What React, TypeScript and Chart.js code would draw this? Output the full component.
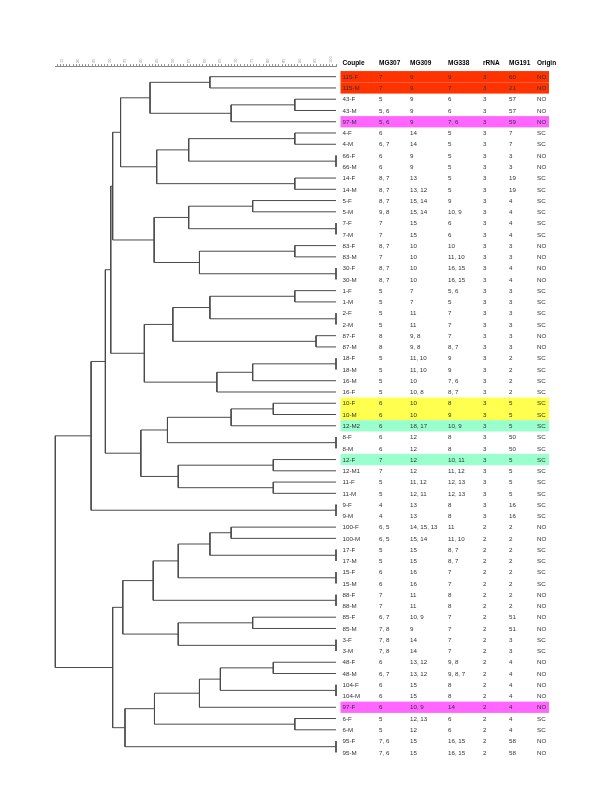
import React, { useEffect, useRef } from "react";
import { Chart, registerables } from "chart.js";

Chart.register(...registerables);

// ---- Data ----
const couples = ["115-F","115-M","43-F","43-M","97-M","4-F","4-M","66-F","66-M","14-F","14-M","5-F","5-M","7-F","7-M","83-F","83-M","30-F","30-M","1-F","1-M","2-F","2-M","87-F","87-M","18-F","18-M","16-M","16-F","10-F","10-M","12-M2","8-F","8-M","12-F","12-M1","11-F","11-M","9-F","9-M","100-F","100-M","17-F","17-M","15-F","15-M","88-F","88-M","85-F","85-M","3-F","3-M","48-F","48-M","104-F","104-M","97-F","6-F","6-M","95-F","95-M"];
const mg307 = ["7","7","5","5, 6","5, 6","6","6, 7","6","6","8, 7","8, 7","8, 7","9, 8","7","7","8, 7","7","8, 7","8, 7","5","5","5","5","8","8","5","5","5","5","6","6","6","6","6","7","7","5","5","4","4","6, 5","6, 5","5","5","6","6","7","7","6, 7","7, 8","7, 8","7, 8","6","6, 7","6","6","6","5","5","7, 6","7, 6"];
const mg309 = ["9","9","9","9","9","14","14","9","9","13","13, 12","15, 14","15, 14","15","15","10","10","10","10","7","7","11","11","9, 8","9, 8","11, 10","11, 10","10","10, 8","10","10","18, 17","12","12","12","12","11, 12","12, 11","13","13","14, 15, 13","15, 14","15","15","16","16","11","11","10, 9","9","14","14","13, 12","13, 12","15","15","10, 9","12, 13","12","15","15"];
const mg338 = ["9","7","6","6","7, 6","5","5","5","5","5","5","9","10, 9","6","6","10","11, 10","16, 15","16, 15","5, 6","5","7","7","7","8, 7","9","9","7, 6","8, 7","8","9","10, 9","8","8","10, 11","11, 12","12, 13","12, 13","8","8","11","11, 10","8, 7","8, 7","7","7","8","8","7","7","7","7","9, 8","9, 8, 7","8","8","14","6","6","16, 15","16, 15"];
const rrna = ["3","3","3","3","3","3","3","3","3","3","3","3","3","3","3","3","3","3","3","3","3","3","3","3","3","3","3","3","3","3","3","3","3","3","3","3","3","3","3","3","2","2","2","2","2","2","2","2","2","2","2","2","2","2","2","2","2","2","2","2","2"];
const mg191 = ["60","21","57","57","59","7","7","3","3","19","19","4","4","4","4","3","3","4","4","3","3","3","3","3","3","2","2","2","2","5","5","5","50","50","5","5","5","5","16","16","2","2","2","2","2","2","2","2","51","51","3","3","4","4","4","4","4","4","4","58","58"];
const origin = ["NO","NO","NO","NO","NO","SC","SC","NO","NO","SC","SC","SC","SC","SC","SC","NO","NO","NO","NO","SC","SC","SC","SC","NO","NO","SC","SC","SC","SC","SC","SC","SC","SC","SC","SC","SC","SC","SC","SC","SC","NO","NO","SC","SC","SC","SC","NO","NO","NO","NO","SC","SC","NO","NO","NO","NO","NO","SC","SC","NO","NO"];
const headers = ["Couple","MG307","MG309","MG338","rRNA","MG191","Origin"];
// highlighted rows: [row index, color]
const highlightRows = [0, 1, 4, 29, 30, 31, 34, 56];
const highlightColors = ["#ff3300","#ff3300","#ff66ff","#ffff4d","#ffff4d","#99ffcc","#99ffcc","#ff66ff"];

// Dendrogram linkage (leaves 0..60 in display order, internal nodes 61+)
const mergeLeft  = [0,2,62,61,5,7,65,9,67,64,11,13,71,15,17,74,73,70,19,21,79,23,81,25,84,85,83,78,29,89,32,90,34,36,93,92,88,38,97,40,42,100,44,102,46,104,48,50,107,106,52,54,111,113,57,114,59,116,110,99];
const mergeRight = [1,3,4,63,6,8,66,10,68,69,12,14,72,16,18,75,76,77,20,22,80,24,82,26,27,28,86,87,30,31,33,91,35,37,94,95,96,39,98,41,43,101,45,103,47,105,49,51,108,109,53,55,112,56,58,115,60,117,118,119];
const mergeHeight = [60.2,87.0,66.9,41.3,87.0,100,53.5,87.0,43.4,32.0,73.7,100,53.5,87.0,100,56.9,42.6,29.5,87.0,100,60.2,93.7,48.5,100,73.7,62.4,39.5,28.9,80.2,66.9,100,46.8,80.2,80.2,50.2,38.4,27.2,100,22.7,66.9,100,60.2,100,50.2,100,42.3,73.7,100,50.2,32.7,80.2,100,63.5,56.9,87.0,42.7,100,33.4,29.5,11.4];

const axisMin = 11.3;
const axisMax = 100;

const FONT = '"Liberation Sans", Arial, Helvetica, sans-serif';

function buildDatasets() {
  const n = couples.length;
  const ys: number[] = [];
  const hs: number[] = [];
  for (let i = 0; i < n; i++) { ys.push(i); hs.push(100); }
  const datasets: any[] = [];
  for (let m = 0; m < mergeLeft.length; m++) {
    const a = mergeLeft[m], b = mergeRight[m], h = mergeHeight[m];
    const ya = ys[a], yb = ys[b];
    datasets.push({
      data: [
        { x: hs[a], y: ya },
        { x: h, y: ya },
        { x: h, y: yb },
        { x: hs[b], y: yb },
      ],
      showLine: true,
      borderColor: "#4a4a4a",
      borderWidth: 1,
      pointRadius: 0,
      pointHoverRadius: 0,
      tension: 0,
      clip: false,
    });
    ys.push((ya + yb) / 2);
    hs.push(h);
  }
  return datasets;
}

const colX = [342.5, 379, 410, 448, 483, 509, 537];

const tablePlugin = {
  id: "table",
  afterDraw(chart: any) {
    const ctx = chart.ctx;
    const y = chart.scales.y;
    const rowH = Math.abs(y.getPixelForValue(1) - y.getPixelForValue(0));
    ctx.save();
    // highlight bands
    highlightRows.forEach((r, k) => {
      const cy = y.getPixelForValue(r);
      ctx.fillStyle = highlightColors[k];
      ctx.fillRect(340.5, cy - rowH / 2, 208.5, rowH);
    });
    // header
    ctx.fillStyle = "#000";
    ctx.font = `bold 6.5px ${FONT}`;
    ctx.textBaseline = "middle";
    ctx.textAlign = "left";
    headers.forEach((h, i) => ctx.fillText(h, colX[i], 63));
    // rows
    ctx.font = `6.2px ${FONT}`;
    ctx.fillStyle = "#333";
    const cols = [couples, mg307, mg309, mg338, rrna, mg191, origin];
    for (let r = 0; r < couples.length; r++) {
      const cy = y.getPixelForValue(r) + 0.5;
      cols.forEach((c, i) => ctx.fillText(c[r], colX[i], cy));
    }
    ctx.restore();
  },
};

export default function App() {
  const ref = useRef<HTMLCanvasElement>(null);
  useEffect(() => {
    document.body.style.margin = "0";
    const canvas = ref.current!;
    const chart = new Chart(canvas, {
      type: "scatter",
      data: { datasets: buildDatasets() },
      options: {
        animation: false,
        responsive: false,
        devicePixelRatio: 1,
        events: [],
        layout: { padding: { left: 55, right: 264, top: 0, bottom: 30 } },
        plugins: { legend: { display: false }, tooltip: { enabled: false } },
        scales: {
          x: {
            type: "linear",
            position: "top",
            min: axisMin,
            max: axisMax,
            afterFit: (s: any) => { s.height = 66; },
            afterBuildTicks: (s: any) => {
              const t = [];
              for (let v = 12; v <= 100; v++) t.push({ value: v });
              s.ticks = t;
            },
            ticks: {
              autoSkip: false,
              minRotation: 90,
              maxRotation: 90,
              padding: 1,
              color: "#999",
              font: { size: 4, family: FONT },
              callback: (v: any) => (Number(v) % 5 === 0 ? String(v) : ""),
            },
            grid: { drawOnChartArea: false, drawTicks: true, tickLength: 2, color: "#999" },
            border: { display: true, color: "#888" },
          },
          y: {
            type: "linear",
            display: false,
            reverse: true,
            min: -0.95,
            max: 61.57,
          },
        },
      },
      plugins: [tablePlugin],
    });
    return () => chart.destroy();
  }, []);
  return (
    <div style={{ width: 600, height: 800 }}>
      <canvas ref={ref} width={600} height={800} style={{ width: 600, height: 800, display: "block" }} />
    </div>
  );
}
